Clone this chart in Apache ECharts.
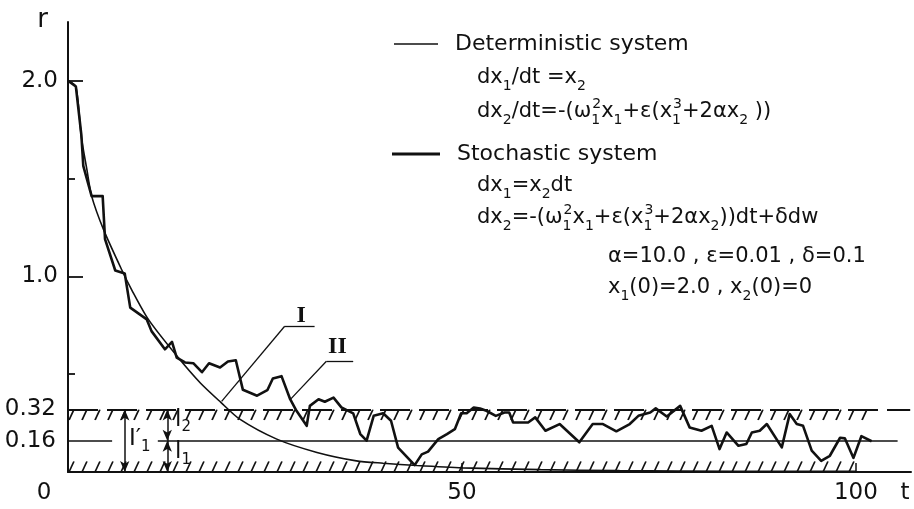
<!DOCTYPE html>
<html><head><meta charset="utf-8">
<script src="https://cdn.jsdelivr.net/npm/echarts@6/dist/echarts.min.js"></script>
<style>html,body{margin:0;padding:0;background:#fff}#c{width:914px;height:509px}</style>
</head><body><div id="c"></div>
<script>
// ---- data ----
const detT = [0, 1.0, 1.7, 2.4, 3.0, 4.5, 6.8, 8.1, 10.2, 13.8, 16.8, 19.4, 21.8, 26.5, 31.6, 36.6, 40.0, 44.3, 50.1, 60.0, 70.0, 85.0, 100.0];
const detR = [2.0, 1.97, 1.71, 1.545, 1.41, 1.24, 1.035, 0.93, 0.78, 0.594, 0.455, 0.356, 0.27, 0.168, 0.10, 0.057, 0.045, 0.033, 0.021, 0.012, 0.007, 0.004, 0.003];
const stoT = [0, 1.0, 1.7, 1.94, 3.0, 4.4, 4.7, 6.0, 7.2, 7.9, 10.0, 10.6, 12.3, 13.2, 13.8, 14.85, 15.9, 17.0, 17.9, 19.3, 20.3, 21.3, 22.2, 24.0, 25.3, 26.0, 27.1, 28.2, 29.0, 30.3, 30.7, 31.8, 32.6, 33.7, 34.7, 36.2, 37.1, 37.9, 38.8, 40.0, 41.0, 41.9, 44.0, 44.9, 45.7, 47.0, 48.1, 49.1, 49.9, 50.6, 51.5, 52.3, 53.1, 54.3, 55.4, 56.0, 56.5, 58.4, 59.3, 60.6, 62.4, 64.9, 66.6, 67.9, 69.6, 71.3, 72.4, 73.9, 74.6, 76.0, 77.7, 78.9, 80.4, 81.7, 82.7, 83.6, 85.1, 86.1, 86.8, 87.8, 88.7, 90.6, 91.6, 92.5, 93.3, 94.4, 95.6, 96.7, 98.0, 98.6, 99.7, 100.7, 102.0];
const stoR = [2.0, 1.97, 1.72, 1.565, 1.41, 1.41, 1.19, 1.03, 1.015, 0.84, 0.78, 0.72, 0.627, 0.665, 0.585, 0.56, 0.556, 0.51, 0.556, 0.534, 0.565, 0.571, 0.42, 0.39, 0.418, 0.478, 0.49, 0.372, 0.313, 0.236, 0.338, 0.372, 0.359, 0.38, 0.33, 0.30, 0.194, 0.16, 0.287, 0.30, 0.262, 0.125, 0.035, 0.09, 0.104, 0.168, 0.194, 0.219, 0.30, 0.30, 0.33, 0.325, 0.313, 0.287, 0.304, 0.304, 0.253, 0.253, 0.279, 0.211, 0.245, 0.152, 0.245, 0.245, 0.208, 0.245, 0.287, 0.304, 0.325, 0.284, 0.338, 0.228, 0.211, 0.236, 0.117, 0.202, 0.134, 0.143, 0.202, 0.211, 0.245, 0.126, 0.296, 0.245, 0.236, 0.109, 0.057, 0.083, 0.175, 0.172, 0.072, 0.183, 0.157];
const xLabelValues = [0, 50, 100];
const xTickValues = [50, 100];
const yLabelValues = [1, 2];
const yMinorTickValues = [0.5, 1.5];
const levelUpper = 0.32;
const levelMid = 0.16;
// annotation anchors (data space)
const leaderI = [[19.5, 0.361], [27.5, 0.745], [31.3, 0.745]];
const leaderII = [[28.2, 0.37], [32.8, 0.566], [36.2, 0.566]];
const labelI = [29.6, 0.80];
const labelII = [34.2, 0.64];
const arrowT1 = 7.2, arrowT2 = 12.6;
const labelI1 = [9.1, 0.166], labelL2 = [14.6, 0.268], labelL1 = [14.6, 0.10];
const midGap = [5.6, 11.4], midEnd = 105.3, upperEnd = 106.9;
const hatchTopEnd = 102.3, hatchBotEnd = 100.5;

const FF = "'DejaVu Sans', sans-serif";
const SERIF = "'Liberation Serif', 'DejaVu Serif', serif";
const INK = '#111';

const chart = echarts.init(document.getElementById('c'), null, {renderer: 'canvas'});

const solid = (w) => ({type: 'solid', width: w, color: INK});
function seg(a, b, extra) { return [Object.assign({coord: a}, extra || {}), {coord: b}]; }
function arrowSeg(a, b) {
  return [{coord: a, symbol: 'arrow', symbolSize: [7, 11], lineStyle: solid(1.5), itemStyle: {color: INK}},
          {coord: b, symbol: 'arrow', symbolSize: [7, 11], itemStyle: {color: INK}}];
}

const refLines = [
  seg([0, levelUpper], [upperEnd, levelUpper], {lineStyle: {type: [30, 9], width: 2, color: INK},
    label: {show: true, position: 'start', formatter: '0.32', fontSize: 23, fontFamily: FF, color: INK, distance: 12}}),
  seg([0, levelMid], [midGap[0], levelMid], {lineStyle: solid(1.5),
    label: {show: true, position: 'start', formatter: '0.16', fontSize: 23, fontFamily: FF, color: INK, distance: 12}}),
  seg([midGap[1], levelMid], [midEnd, levelMid], {lineStyle: solid(1.5)}),
  arrowSeg([arrowT1, levelUpper], [arrowT1, 0]),
  arrowSeg([arrowT2, levelUpper], [arrowT2, levelMid]),
  arrowSeg([arrowT2, levelMid], [arrowT2, 0]),
  seg(leaderI[0], leaderI[1], {lineStyle: solid(1.3)}),
  seg(leaderI[1], leaderI[2], {lineStyle: solid(1.3)}),
  seg(leaderII[0], leaderII[1], {lineStyle: solid(1.3)}),
  seg(leaderII[1], leaderII[2], {lineStyle: solid(1.3)})
];

const subRich = {
  m: {fontSize: 23, fontFamily: FF, color: INK, lineHeight: 30},
  s: {fontSize: 15, fontFamily: FF, color: INK, lineHeight: 15, verticalAlign: 'bottom'},
  rn: {fontSize: 24, fontFamily: SERIF, fontWeight: 'bold', color: INK}
};

const option = {
  animation: false,
  grid: {left: 68, right: 3, top: 22, bottom: 37, containLabel: false},
  legend: [
    {data: ['Deterministic system'], left: 394, top: 33, padding: 0, icon: 'rect', itemWidth: 44, itemHeight: 1.5,
      selectedMode: false, textStyle: {fontSize: 22, fontFamily: FF, color: INK, padding: [0, 0, 0, 12]}},
    {data: ['Stochastic system'], left: 392, top: 143, padding: 0, icon: 'rect', itemWidth: 48, itemHeight: 3,
      selectedMode: false, textStyle: {fontSize: 22, fontFamily: FF, color: INK, padding: [0, 0, 0, 12]}}
  ],
  xAxis: {
    type: 'value', min: 0, max: 107,
    name: 't', nameLocation: 'end', nameGap: -6,
    nameTextStyle: {fontSize: 23, fontFamily: FF, color: INK, align: 'center', verticalAlign: 'top', padding: [10, 0, 0, 0]},
    axisLine: {lineStyle: {color: INK, width: 2}},
    axisTick: {inside: true, length: 9, customValues: xTickValues, lineStyle: {color: INK, width: 1.5}},
    axisLabel: {customValues: xLabelValues, fontSize: 23, fontFamily: FF, color: INK, margin: 10,
      formatter: v => v === 0 ? '{z|0}' : String(v),
      rich: {z: {fontSize: 23, fontFamily: FF, color: INK, padding: [0, 48, 0, 0]}}},
    splitLine: {show: false}
  },
  yAxis: [{
    type: 'value', min: 0, max: 2.3,
    name: 'r', nameLocation: 'end', nameGap: 2,
    nameTextStyle: {fontSize: 26, fontFamily: FF, color: INK, align: 'right', verticalAlign: 'middle', padding: [0, 20, 0, 0]},
    axisLine: {lineStyle: {color: INK, width: 2}},
    axisTick: {inside: true, length: 15, customValues: yLabelValues, lineStyle: {color: INK, width: 1.8}},
    axisLabel: {customValues: yLabelValues, fontSize: 23, fontFamily: FF, color: INK, margin: 10, formatter: v => v.toFixed(1)},
    splitLine: {show: false}
  }, {
    type: 'value', min: 0, max: 2.3, position: 'left',
    axisLine: {show: false},
    axisTick: {inside: true, length: 7, customValues: yMinorTickValues, lineStyle: {color: INK, width: 1.8}},
    axisLabel: {show: false},
    splitLine: {show: false}
  }],
  series: [
    {
      id: 'ref', type: 'line', data: [], silent: true, z: 3,
      itemStyle: {color: INK},
      markLine: {silent: true, symbol: 'none', animation: false, label: {show: false},
        lineStyle: {type: 'solid', color: INK, width: 1.3}, itemStyle: {color: INK}, data: refLines},
      markPoint: {
        silent: true, symbol: 'rect', symbolSize: 1, itemStyle: {color: 'rgba(0,0,0,0)'},
        label: {show: true, position: 'inside', formatter: '{b}', rich: subRich},
        data: [
          {name: 'I', coord: labelI, label: {formatter: '{rn|I}'}},
          {name: 'II', coord: labelII, label: {formatter: '{rn|II}'}},
          {name: 'I1', coord: labelI1, label: {formatter: '{m|I′}{s|1}'}},
          {name: 'l2', coord: labelL2, label: {formatter: '{m|l}{s|2}'}},
          {name: 'l1', coord: labelL1, label: {formatter: '{m|l}{s|1}'}}
        ]
      }
    },
    {
      id: 'det', name: 'Deterministic system', type: 'line', z: 5,
      data: detT.map((t, i) => [t, detR[i]]),
      smooth: 0.25, symbol: 'none', showSymbol: false,
      lineStyle: {color: INK, width: 1.6}, itemStyle: {color: INK}
    },
    {
      id: 'sto', name: 'Stochastic system', type: 'line', z: 6,
      data: stoT.map((t, i) => [t, stoR[i]]),
      symbol: 'none', showSymbol: false,
      lineStyle: {color: INK, width: 2.6, join: 'round'}, itemStyle: {color: INK}
    }
  ]
};

// equation annotations
const eqRich = {
  s: {fontSize: 14, lineHeight: 14, verticalAlign: 'bottom', fontFamily: FF, fill: INK},
  s0: {fontSize: 14, lineHeight: 14, verticalAlign: 'bottom', fontFamily: FF, fill: INK, width: 1},
  p: {fontSize: 14, lineHeight: 14, verticalAlign: 'top', fontFamily: FF, fill: INK}
};
function eq(x, y, text) {
  return {type: 'text', x: x, y: y, silent: true,
    style: {text: text, fontSize: 21, fontFamily: FF, fill: INK, lineHeight: 30, verticalAlign: 'middle', align: 'left', rich: eqRich}};
}
option.graphic = [
  eq(477, 78, 'dx{s|1}/dt =x{s|2}'),
  eq(477, 112, 'dx{s|2}/dt=-(ω{s0|1}{p|2}x{s|1}+ε(x{s0|1}{p|3}+2αx{s|2} ))'),
  eq(477, 186, 'dx{s|1}=x{s|2}dt'),
  eq(477, 218, 'dx{s|2}=-(ω{s0|1}{p|2}x{s|1}+ε(x{s0|1}{p|3}+2αx{s|2}))dt+δdw'),
  eq(608, 257, 'α=10.0 , ε=0.01 , δ=0.1'),
  eq(608, 288, 'x{s|1}(0)=2.0 , x{s|2}(0)=0')
];

chart.setOption(option);

// hatching of the bands (pattern aligned to band edges)
function hatchCanvas(offset, len) {
  const W = 13, H = 30;
  const c = document.createElement('canvas'); c.width = W; c.height = H;
  const g = c.getContext('2d'); g.strokeStyle = '#111'; g.lineWidth = 1.7;
  [-H, 0, H].forEach(d => { g.beginPath(); g.moveTo(9, offset + d); g.lineTo(4, offset + d + len); g.stroke(); });
  return c;
}
const px = v => chart.convertToPixel({xAxisIndex: 0, yAxisIndex: 0}, [0, v])[1];
const topBandLow = 0.265, botBandHigh = 0.055;
const pTop = px(levelUpper), pTopLow = px(topBandLow);
const pBotHigh = px(botBandHigh), pBot = px(0);
const mod = (a, m) => ((a % m) + m) % m;
const cTop = hatchCanvas(mod(pTop, 30), pTopLow - pTop);
const cBot = hatchCanvas(mod(pBotHigh, 30), pBot - pBotHigh);
chart.setOption({series: [{id: 'ref', markArea: {
  silent: true,
  data: [
    [{coord: [0, levelUpper], itemStyle: {color: {image: cTop, repeat: 'repeat'}, opacity: 1, borderWidth: 0}}, {coord: [hatchTopEnd, topBandLow]}],
    [{coord: [0, botBandHigh], itemStyle: {color: {image: cBot, repeat: 'repeat'}, opacity: 1, borderWidth: 0}}, {coord: [hatchBotEnd, 0]}]
  ]
}}]});
</script>
</body></html>
